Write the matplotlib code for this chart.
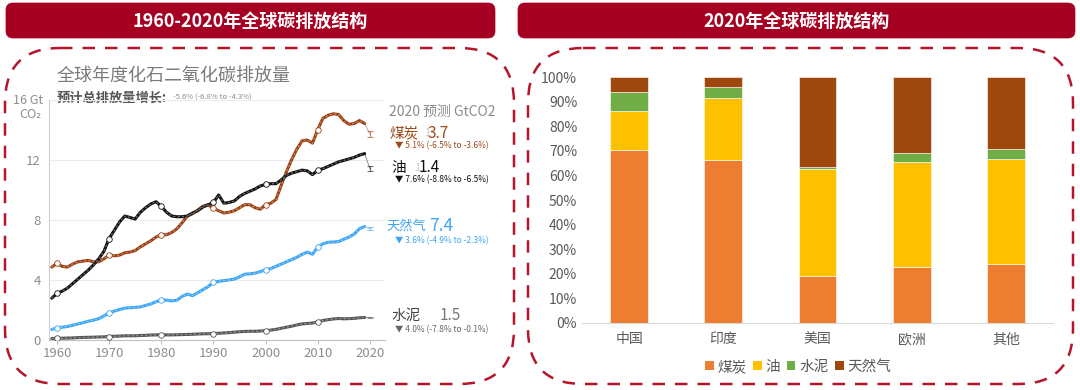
import matplotlib
matplotlib.use("Agg")
import matplotlib.pyplot as plt
from matplotlib.patches import FancyBboxPatch, Patch
from matplotlib.ticker import FuncFormatter

plt.rcParams['font.family'] = ['Noto Sans CJK SC', 'DejaVu Sans']

# ---------------- data: left chart (GtCO2) ----------------
years = list(range(1959, 2020))
coal = [4.85, 5.1, 4.9, 4.85, 5.05, 5.2, 5.25, 5.3, 5.2, 5.2, 5.4, 5.65, 5.6, 5.65, 5.8, 5.85,
        5.95, 6.2, 6.4, 6.6, 6.85, 7.0, 7.0, 7.15, 7.4, 7.8, 8.25, 8.4, 8.65, 8.9, 9.0, 8.75,
        8.6, 8.45, 8.5, 8.6, 8.8, 9.0, 9.0, 8.8, 8.7, 9.0, 9.1, 9.35, 10.3, 11.2, 12.0, 12.7,
        13.25, 13.3, 13.1, 14.0, 14.75, 14.95, 15.05, 15.0, 14.6, 14.35, 14.4, 14.6, 14.4]
oil = [2.78, 3.1, 3.25, 3.45, 3.75, 4.05, 4.35, 4.65, 5.0, 5.4, 5.9, 6.75, 7.3, 7.85, 8.25, 8.15,
       8.05, 8.5, 8.8, 9.05, 9.2, 8.9, 8.5, 8.25, 8.2, 8.2, 8.25, 8.45, 8.6, 8.85, 9.0, 9.15,
       9.65, 9.1, 9.15, 9.25, 9.55, 9.75, 9.9, 10.05, 10.25, 10.35, 10.4, 10.4, 10.65, 10.95,
       11.1, 11.2, 11.3, 11.25, 11.0, 11.3, 11.4, 11.55, 11.7, 11.85, 11.95, 12.05, 12.15, 12.3, 12.4]
gas = [0.7, 0.8, 0.85, 0.9, 0.98, 1.07, 1.15, 1.25, 1.32, 1.42, 1.6, 1.8, 1.92, 2.03, 2.12, 2.15,
       2.17, 2.2, 2.3, 2.4, 2.55, 2.65, 2.65, 2.6, 2.65, 2.9, 3.05, 2.95, 3.15, 3.35, 3.55, 3.85,
       3.9, 3.95, 4.0, 4.05, 4.2, 4.38, 4.4, 4.45, 4.55, 4.68, 4.75, 4.9, 5.05, 5.2, 5.35, 5.5,
       5.7, 5.85, 5.7, 6.2, 6.4, 6.5, 6.52, 6.55, 6.7, 6.85, 7.05, 7.4, 7.55]
cement = [0.1, 0.11, 0.12, 0.13, 0.14, 0.16, 0.17, 0.18, 0.19, 0.2, 0.21, 0.23, 0.25, 0.26, 0.28,
          0.28, 0.28, 0.3, 0.31, 0.33, 0.34, 0.34, 0.34, 0.34, 0.35, 0.36, 0.37, 0.38, 0.4, 0.41,
          0.42, 0.43, 0.45, 0.47, 0.49, 0.52, 0.55, 0.57, 0.58, 0.58, 0.6, 0.62, 0.66, 0.71, 0.78,
          0.85, 0.92, 1.0, 1.07, 1.1, 1.13, 1.2, 1.3, 1.35, 1.4, 1.43, 1.41, 1.42, 1.44, 1.48, 1.5]
proj_year = 2020
proj_vals = [13.7, 11.4, 7.4, 1.5]          # coal, oil, gas, cement
proj_err = [0.2, 0.15, 0.1, 0.05]
proj_labels = ["13.7", "11.4", "7.4", "1.5"]
proj_changes = ["5.1% (-6.5% to -3.6%)", "7.6% (-8.8% to -6.5%)",
                "3.6% (-4.9% to -2.3%)", "4.0% (-7.8% to -0.1%)"]
series_names = ["煤炭", "油", "天然气", "水泥"]
left_yticks = [0, 4, 8, 12]
left_xticks = [1960, 1970, 1980, 1990, 2000, 2010, 2020]
decades = [1960, 1970, 1980, 1990, 2000, 2010]

# ---------------- data: right chart (share) ----------------
regions = ["中国", "印度", "美国", "欧洲", "其他"]
s_coal = [70.5, 66.5, 19.1, 22.9, 24.0]
s_oil = [15.7, 25.2, 43.6, 42.5, 42.9]
s_cement = [7.9, 4.2, 0.7, 3.7, 3.7]
s_gas = [5.9, 4.1, 36.6, 30.9, 29.4]
stack_names = ["煤炭", "油", "水泥", "天然气"]

W, H = 1080, 390
fig = plt.figure(figsize=(W / 100, H / 100), dpi=100)
fig.patch.set_facecolor("white")

# background layer in pixel coordinates
bg = fig.add_axes([0, 0, 1, 1])
bg.set_xlim(0, W)
bg.set_ylim(H, 0)
bg.axis("off")

RED = "#A50021"
DASH = "#B5162B"
for x0, x1, title in [(6, 495, "1960-2020年全球碳排放结构"), (518, 1075, "2020年全球碳排放结构")]:
    bg.add_patch(FancyBboxPatch((x0, 3), x1 - x0, 35, boxstyle="round,pad=0,rounding_size=7",
                                facecolor=RED, edgecolor=RED, lw=0.5))
    bg.text((x0 + x1) / 2, 21, title, color="white", fontsize=13, fontweight="bold",
            ha="center", va="center")
for x0, x1 in [(5, 514), (528, 1073)]:
    bg.add_patch(FancyBboxPatch((x0, 48), x1 - x0, 336, boxstyle="round,pad=0,rounding_size=55",
                                facecolor="none", edgecolor=DASH, lw=1.8,
                                linestyle=(0, (5, 4))))

# ---------------- left chart ----------------
colors = ["#9C4012", "#111111", "#3DA5F4", "#555555"]
text_colors = ["#9C4A1A", "#111111", "#3DA5F4", "#444444"]
axL = fig.add_axes([49 / W, 1 - 340 / H, (385 - 49) / W, (340 - 99.5) / H])
axL.set_facecolor("none")
axL.set_xlim(1958.47, 2022.9)
axL.set_ylim(0, 16)
for y in [4, 8, 12, 16]:
    axL.axhline(y, color="#ececec", lw=0.8, zorder=0)
mark_idx = [years.index(d) for d in decades]
for vals, c, pv, pe in zip([coal, oil, gas, cement], colors, proj_vals, proj_err):
    axL.plot([years[-1], proj_year], [vals[-1], pv], color=c, lw=0.7, alpha=0.45, zorder=2)
    axL.errorbar([proj_year], [pv], yerr=[[pe], [pe]], color=c, alpha=0.6, lw=0.8,
                 capsize=2, capthick=0.8, zorder=2)
    axL.plot(years, vals, color=c, lw=2.2, solid_capstyle="round", zorder=3)
    axL.plot(years, vals, color="white", lw=0.8, alpha=0.4, linestyle=(0, (2, 2)), zorder=4)
    axL.plot(years, vals, linestyle="none", marker="o", markevery=mark_idx, markersize=4,
             markerfacecolor="white", markeredgecolor=c, markeredgewidth=0.6, zorder=5)
axL.set_yticks(left_yticks)
axL.set_xticks(left_xticks)
axL.tick_params(axis="y", length=0, labelsize=9.5, labelcolor="#8c8c8c", pad=6)
axL.tick_params(axis="x", length=3, color="#bbbbbb", labelsize=9.5, labelcolor="#8c8c8c", pad=2)
for s in ["top", "right"]:
    axL.spines[s].set_visible(False)
axL.spines["left"].set_color("#d0d0d0")
axL.spines["bottom"].set_color("#c0c0c0")

# left chart texts
bg.text(57, 77, "全球年度化石二氧化碳排放量", fontsize=13, color="#7a7a7a", ha="left", va="center")
bg.text(57, 98, "预计总排放量增长:", fontsize=9.5, color="#555555", fontweight="bold",
        ha="left", va="center")
bg.text(173, 98, "-5.6% (-6.8% to -4.3%)", fontsize=5.5, color="#8c8c8c", ha="left", va="center")
bg.text(43, 100, "16 Gt", fontsize=9, color="#8c8c8c", ha="right", va="center")
bg.text(42, 114, "CO₂", fontsize=9, color="#8c8c8c", ha="right", va="center")
bg.text(389, 112, "2020 预测 GtCO2", fontsize=10, color="#8c8c8c", ha="left", va="center")

name_x = [389, 391, 386, 391]
name_fs = [10.5, 10.5, 9.5, 10.5]
lab_y = [133, 168, 226, 316]
bar_x = [424, 414]
num_x = [428, 419, 429, 440]
chg_dy = [13, 12, 15, 14]
for i in range(4):
    bg.text(name_x[i], lab_y[i], series_names[i], fontsize=name_fs[i], color=text_colors[i],
            ha="left", va="center")
    if i in (0, 1):
        bg.text(bar_x[i], lab_y[i], proj_labels[i][0], fontsize=8, color="#c8c8c8",
                ha="left", va="center")
        bg.text(num_x[i], lab_y[i], proj_labels[i][1:], fontsize=11, color=text_colors[i],
                ha="left", va="center")
    else:
        bg.text(num_x[i], lab_y[i], proj_labels[i], fontsize=12.5 if i == 2 else 11,
                color=text_colors[i] if i == 2 else "#777777", ha="left", va="center")
    bg.text(395, lab_y[i] + chg_dy[i], "▼ " + proj_changes[i], fontsize=6,
            color=text_colors[i] if i != 3 else "#666666", ha="left", va="center")

# ---------------- right chart ----------------
axR = fig.add_axes([582 / W, 1 - 322.7 / H, (1053 - 582) / W, (322.7 - 77.3) / H])
axR.set_facecolor("none")
stack_colors = ["#ED7D31", "#FFC000", "#70AD47", "#9E480E"]
xpos = list(range(len(regions)))
bottom = [0.0] * len(regions)
for vals, c in zip([s_coal, s_oil, s_cement, s_gas], stack_colors):
    fr = [v / 100 for v in vals]
    axR.bar(xpos, fr, bottom=bottom, width=0.4, color=c, edgecolor="white", linewidth=0.4,
            zorder=2)
    bottom = [b + f for b, f in zip(bottom, fr)]
axR.set_xlim(-0.5, 4.5)
axR.set_ylim(0, 1.0)
axR.set_yticks([i / 10 for i in range(11)])
axR.yaxis.set_major_formatter(FuncFormatter(lambda v, p: f"{v * 100:.0f}%"))
axR.set_xticks(xpos)
axR.set_xticklabels(regions)
axR.tick_params(axis="both", length=0, labelsize=10, labelcolor="#595959")
axR.tick_params(axis="x", pad=7)
for s in ["top", "right", "left"]:
    axR.spines[s].set_visible(False)
axR.spines["bottom"].set_color("#d9d9d9")

handles = [Patch(facecolor=c, edgecolor="none") for c in stack_colors]
fig.legend(handles, stack_names, loc="center", bbox_to_anchor=(798 / W, 1 - 367 / H), ncol=4,
           frameon=False, fontsize=10.5, handlelength=0.6, handleheight=0.6, handletextpad=0.25,
           columnspacing=0.45, labelcolor="#595959")

fig.savefig("out.png", dpi=100)
